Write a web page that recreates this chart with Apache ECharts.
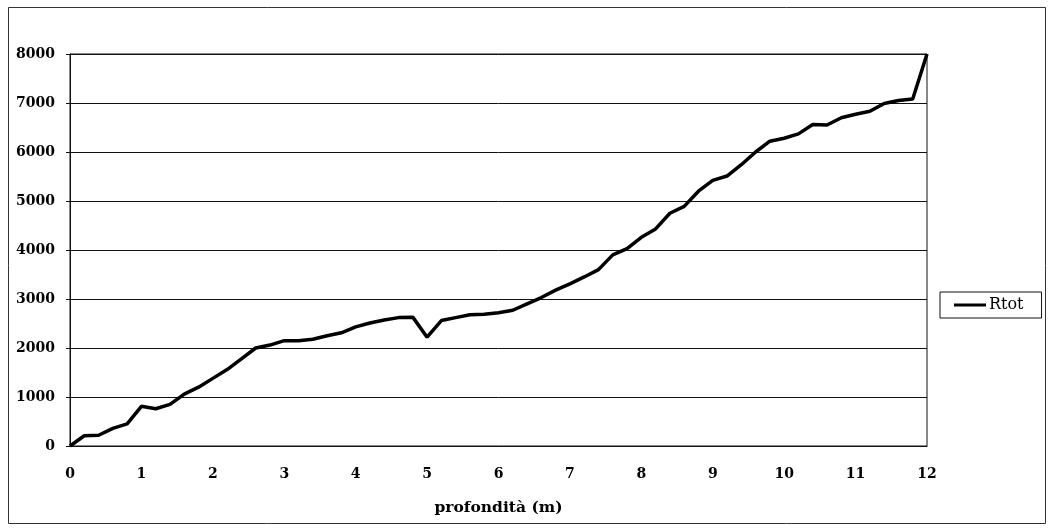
<!DOCTYPE html>
<html>
<head>
<meta charset="utf-8">
<script src="https://cdn.jsdelivr.net/npm/echarts@6/dist/echarts.min.js"></script>
<style>
  html, body { margin: 0; padding: 0; background: #fff; }
  #chart { width: 1050px; height: 529px; }
</style>
</head>
<body>
<div id="chart"></div>
<script>
// Depth readings, one every 0.2 m
const depth = [
  0, 0.2, 0.4, 0.6, 0.8, 1.0, 1.2, 1.4, 1.6, 1.8,
  2.0, 2.2, 2.4, 2.6, 2.8, 3.0, 3.2, 3.4, 3.6, 3.8,
  4.0, 4.2, 4.4, 4.6, 4.8, 5.0, 5.2, 5.4, 5.6, 5.8,
  6.0, 6.2, 6.4, 6.6, 6.8, 7.0, 7.2, 7.4, 7.6, 7.8,
  8.0, 8.2, 8.4, 8.6, 8.8, 9.0, 9.2, 9.4, 9.6, 9.8,
  10.0, 10.2, 10.4, 10.6, 10.8, 11.0, 11.2, 11.4, 11.6, 11.8,
  12.0
];

// Total resistance Rtot at each depth
const rtot = [
  0, 210, 220, 360, 450, 810, 760, 850, 1060, 1200,
  1380, 1560, 1780, 2000, 2060, 2150, 2150, 2180, 2250, 2310,
  2430, 2510, 2570, 2620, 2630, 2220, 2560, 2620, 2680, 2690,
  2720, 2770, 2900, 3030, 3180, 3310, 3450, 3600, 3900, 4030,
  4260, 4430, 4750, 4890, 5200, 5420, 5510, 5740, 6000, 6220,
  6280, 6370, 6560, 6550, 6700, 6770, 6830, 6990, 7050, 7080,
  8000
];

const seriesName = 'Rtot';
const xAxisTitle = 'profondità (m)';

const serif = '"DejaVu Serif", "Liberation Serif", serif';

const chart = echarts.init(document.getElementById('chart'), null, { renderer: 'canvas' });

chart.setOption({
  animation: false,
  backgroundColor: '#fff',
  textStyle: { fontFamily: serif },
  graphic: [{
    type: 'rect',
    shape: { x: 8.5, y: 7.5, width: 1037, height: 516 },
    style: { fill: 'none', stroke: '#333', lineWidth: 1 },
    silent: true
  }],
  grid: {
    left: 70, right: 123, top: 54, bottom: 83,
    show: true, borderColor: '#111', borderWidth: 1, backgroundColor: '#fff'
  },
  legend: {
    show: true,
    left: 940, top: 292,
    orient: 'vertical',
    data: [{ name: seriesName, icon: 'rect' }],
    itemWidth: 32, itemHeight: 3, itemGap: 0,
    padding: [5, 18, 5, 14],
    borderColor: '#111', borderWidth: 1,
    itemStyle: { color: '#000' },
    textStyle: { fontFamily: serif, fontSize: 16, color: '#000', padding: [0, 0, 0, -2] }
  },
  xAxis: {
    type: 'value',
    min: 0, max: 12, interval: 1,
    name: xAxisTitle,
    nameLocation: 'middle',
    nameGap: 54,
    nameTextStyle: { fontFamily: serif, fontWeight: 'bold', fontSize: 15.5, color: '#000' },
    axisLine: { show: true, lineStyle: { color: '#111', width: 1 } },
    axisTick: { show: false },
    axisLabel: { margin: 21, fontFamily: serif, fontWeight: 'bold', fontSize: 14, color: '#000' },
    splitLine: { show: false }
  },
  yAxis: {
    type: 'value',
    min: 0, max: 8000, interval: 1000,
    axisLine: { show: true, lineStyle: { color: '#111', width: 1 } },
    axisTick: { show: true, length: 4, lineStyle: { color: '#111' } },
    axisLabel: {
      margin: 15, fontFamily: serif, fontWeight: 'bold', fontSize: 14, color: '#000',
      formatter: v => String(v)
    },
    splitLine: { show: true, lineStyle: { color: '#111', width: 1 } }
  },
  series: [{
    name: seriesName,
    type: 'line',
    data: depth.map((d, i) => [d, rtot[i]]),
    showSymbol: false,
    symbol: 'none',
    lineStyle: { color: '#000', width: 3.5 },
    itemStyle: { color: '#000' }
  }]
});
</script>
</body>
</html>
